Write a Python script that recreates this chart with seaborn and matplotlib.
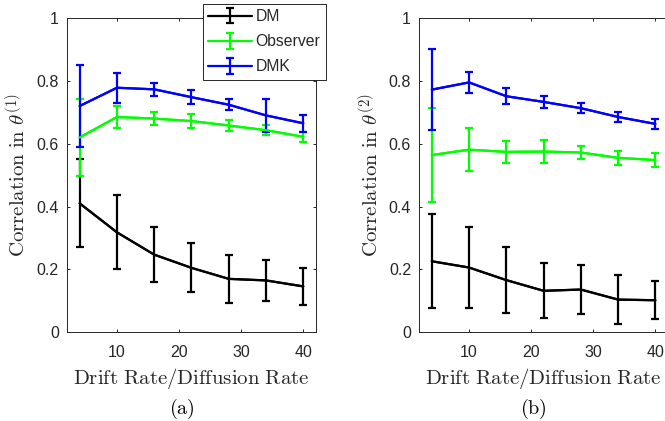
import numpy as np
import pandas as pd
import matplotlib
matplotlib.use("Agg")
import matplotlib.pyplot as plt
import seaborn as sns

# ---- data ----
x_vals = [4, 10, 16, 22, 28, 34, 40]
series_names = ["DM", "Observer", "DMK"]

# panel (a): correlation in theta^(1)
a_dm = [0.41, 0.318, 0.247, 0.205, 0.170, 0.165, 0.146]
a_dm_err = [0.140, 0.118, 0.088, 0.078, 0.076, 0.065, 0.058]
a_obs = [0.620, 0.685, 0.680, 0.672, 0.658, 0.643, 0.622]
a_obs_err = [0.122, 0.035, 0.022, 0.022, 0.018, 0.015, 0.015]
a_dmk = [0.720, 0.778, 0.773, 0.748, 0.724, 0.690, 0.665]
a_dmk_err = [0.130, 0.048, 0.020, 0.022, 0.018, 0.052, 0.027]

# panel (b): correlation in theta^(2)
b_dm = [0.226, 0.206, 0.166, 0.132, 0.136, 0.104, 0.102]
b_dm_err = [0.150, 0.130, 0.105, 0.087, 0.077, 0.077, 0.061]
b_obs = [0.564, 0.581, 0.574, 0.575, 0.572, 0.555, 0.548]
b_obs_err = [0.150, 0.069, 0.036, 0.036, 0.022, 0.022, 0.022]
b_dmk = [0.772, 0.795, 0.751, 0.733, 0.713, 0.685, 0.663]
b_dmk_err = [0.128, 0.033, 0.025, 0.020, 0.015, 0.015, 0.017]

x_ticks = [10, 20, 30, 40]
y_ticks = [0, 0.2, 0.4, 0.6, 0.8, 1]
y_tick_labels = ["0", "0.2", "0.4", "0.6", "0.8", "1"]
colors = {"DM": "#000000", "Observer": "#00ff00", "DMK": "#0000ff"}

sns.set_theme(style="white")
plt.rcParams["font.family"] = ["Liberation Sans", "DejaVu Sans"]
plt.rcParams["mathtext.fontset"] = "cm"

fig = plt.figure(figsize=(6.65, 4.21), dpi=100)
axw, axh, axb = 0.3735, 0.7466, 0.2107
ax_a = fig.add_axes([0.1012, axb, axw, axh])
ax_b = fig.add_axes([0.6307, axb, axw, axh])

panels = [
    (ax_a, [a_dm, a_obs, a_dmk], [a_dm_err, a_obs_err, a_dmk_err], 1, "(a)"),
    (ax_b, [b_dm, b_obs, b_dmk], [b_dm_err, b_obs_err, b_dmk_err], 2, "(b)"),
]

edge = "#262626"
for ax, means, errs, idx, tag in panels:
    rows = []
    for name, m, e in zip(series_names, means, errs):
        for xv, mv, ev in zip(x_vals, m, e):
            rows.append({"x": xv, "y": mv, "err": ev, "series": name})
    df = pd.DataFrame(rows)
    sns.lineplot(data=df, x="x", y="y", hue="series", palette=colors,
                 hue_order=series_names, linewidth=1.6, legend=False, ax=ax,
                 errorbar=None)
    for name in series_names:
        sub = df[df["series"] == name]
        ax.errorbar(sub["x"], sub["y"], yerr=sub["err"], color=colors[name],
                    linewidth=1.6, elinewidth=1.6, capsize=2.8, capthick=1.6,
                    label=name)
    ax.set_xlim(2, 42)
    ax.set_ylim(0, 1)
    ax.set_xticks(x_ticks)
    ax.set_xticklabels([str(t) for t in x_ticks])
    ax.set_yticks(y_ticks)
    ax.set_yticklabels(y_tick_labels)
    ax.tick_params(direction="in", length=2.5, width=0.7, top=True, right=True,
                   left=True, bottom=True, labelsize=11.5, colors=edge,
                   labelcolor=edge)
    ax.tick_params(axis="x", pad=9)
    ax.tick_params(axis="y", pad=6)
    for sp in ax.spines.values():
        sp.set_visible(True)
        sp.set_color(edge)
        sp.set_linewidth(0.7)
    ax.set_xlabel(r"$\mathrm{Drift\ Rate/Diffusion\ Rate}$", fontsize=15,
                  color=edge, labelpad=4.5)
    ax.set_ylabel(r"$\mathrm{Correlation\ in\ }\theta^{(%d)}$" % idx,
                  fontsize=15, color=edge, labelpad=5)
    ax.text(0.46, -0.245, r"$\mathrm{%s}$" % tag, transform=ax.transAxes,
            ha="center", va="center", fontsize=14.5, color="#000000")

leg = ax_a.legend(loc="upper right", bbox_to_anchor=(1.041, 1.046),
                  frameon=True, fancybox=False, framealpha=1.0,
                  edgecolor=edge, fontsize=11.3, handlelength=2.8,
                  handletextpad=0.2, labelspacing=0.65, borderpad=0.35,
                  borderaxespad=0.0)
leg.get_frame().set_linewidth(0.7)
leg.set_zorder(10)

fig.savefig("out.png", dpi=100, facecolor="white")
